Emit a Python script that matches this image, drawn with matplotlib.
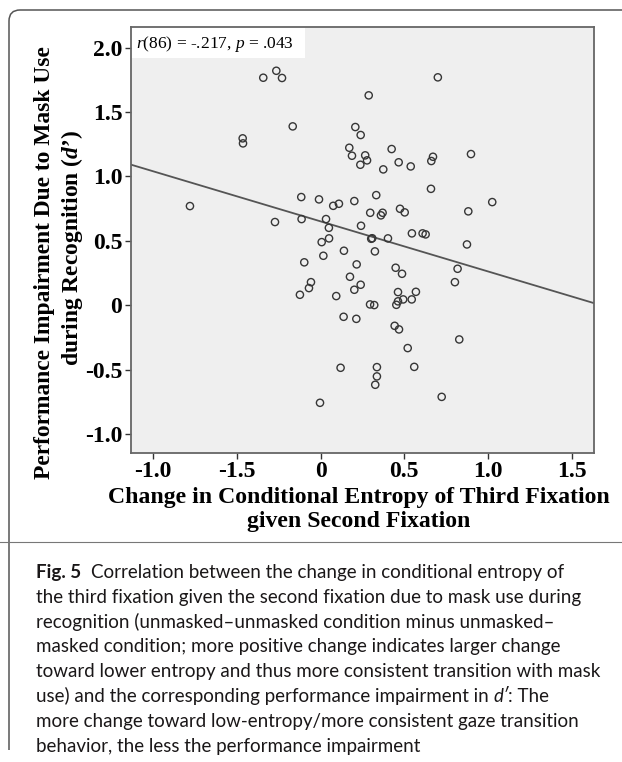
import numpy as np
import matplotlib
matplotlib.use("Agg")
import matplotlib.pyplot as plt
from matplotlib.patches import Rectangle, PathPatch
from matplotlib.path import Path

# change in conditional entropy (x) vs. performance impairment in d' (y)
x_change = [-0.343, -0.265, -0.231, 0.287, -0.167, -0.466, -0.464, 0.207, 0.239, 0.171,
            0.187, 0.266, 0.277, 0.237, 0.332, -0.116, -0.010, 0.075, 0.109, 0.201,
            0.296, -0.781, -0.273, -0.114, 0.032, 0.049, 0.241, 0.700, 0.424, 0.466,
            0.538, 0.374, 0.671, 0.661, 0.898, 0.659, 0.360, 0.370, 0.474, 0.502,
            0.882, 1.025, 0.545, 0.609, 0.627, 0.302, 0.308, 0.006, 0.050, 0.139,
            0.324, 0.016, -0.098, 0.215, 0.175, 0.239, 0.201, -0.058, -0.070, -0.124,
            0.093, 0.295, 0.320, 0.137, 0.213, 0.119, 0.336, 0.336, 0.326, -0.004,
            0.402, 0.874, 0.448, 0.486, 0.818, 0.802, 0.462, 0.569, 0.493, 0.544,
            0.462, 0.452, 0.442, 0.468, 0.828, 0.520, 0.559, 0.723]
y_impair = [1.767, 1.821, 1.765, 1.630, 1.389, 1.296, 1.257, 1.384, 1.322, 1.223,
            1.161, 1.164, 1.125, 1.091, 0.855, 0.840, 0.822, 0.772, 0.788, 0.809,
            0.718, 0.770, 0.646, 0.669, 0.669, 0.601, 0.617, 1.770, 1.213, 1.110,
            1.078, 1.055, 1.153, 1.120, 1.174, 0.904, 0.698, 0.718, 0.749, 0.721,
            0.729, 0.801, 0.558, 0.558, 0.550, 0.516, 0.520, 0.490, 0.519, 0.423,
            0.418, 0.384, 0.333, 0.317, 0.221, 0.159, 0.120, 0.179, 0.133, 0.081,
            0.071, 0.006, 0.001, -0.090, -0.106, -0.486, -0.481, -0.553, -0.618, -0.758,
            0.519, 0.472, 0.291, 0.244, 0.283, 0.179, 0.102, 0.104, 0.045, 0.045,
            0.030, 0.003, -0.160, -0.188, -0.266, -0.333, -0.479, -0.712]

x_ticks = [-1.0, -0.5, 0, 0.5, 1.0, 1.5]
x_tick_labels = ['-1.0', '-1.5', '0', '0.5', '1.0', '1.5']  # as printed in the source
y_ticks = [-1.0, -0.5, 0, 0.5, 1.0, 1.5, 2.0]
y_tick_labels = ['-1.0', '-0.5', '0', '0.5', '1.0', '1.5', '2.0']

stat_label = r'$r$(86) = -.217, $p$ = .043'
x_label_lines = ['Change in Conditional Entropy of Third Fixation', 'given Second Fixation']
y_label_lines = ['Performance Impairment Due to Mask Use', r'during Recognition ($\mathbfit{d}$’)']

caption_lines = [
    [('Fig. 5', 'bold', 'normal'), ('Correlation between the change in conditional entropy of', 'normal', 'normal')],
    [('the third fixation given the second fixation due to mask use during', 'normal', 'normal')],
    [('recognition (unmasked–unmasked condition minus unmasked–', 'normal', 'normal')],
    [('masked condition; more positive change indicates larger change', 'normal', 'normal')],
    [('toward lower entropy and thus more consistent transition with mask', 'normal', 'normal')],
    [('use) and the corresponding performance impairment in', 'normal', 'normal'),
     ('d′', 'normal', 'italic'), (': The', 'normal', 'normal')],
    [('more change toward low-entropy/more consistent gaze transition', 'normal', 'normal')],
    [('behavior, the less the performance impairment', 'normal', 'normal')],
]

plt.rcParams['mathtext.fontset'] = 'custom'
plt.rcParams['mathtext.rm'] = 'Liberation Serif'
plt.rcParams['mathtext.it'] = 'Liberation Serif:italic'
plt.rcParams['mathtext.bf'] = 'Liberation Serif:bold'
plt.rcParams['mathtext.bfit'] = 'Liberation Serif:italic:bold'

W, H = 622, 762
fig = plt.figure(figsize=(W / 100, H / 100), dpi=100)
fig.patch.set_facecolor('white')


def fx(px):
    return px / W


def fy(py):
    return 1 - py / H


ax = fig.add_axes([fx(130.7), fy(453), fx(594) - fx(130.7), fy(27) - fy(453)])
ax.set_facecolor('#efefef')
ax.set_xlim(-1.135, 1.633)
ax.set_ylim(-1.148, 2.161)

ax.scatter(x_change, y_impair, s=27, facecolors='none', edgecolors='#363636',
           linewidths=1.0, zorder=3)

# least squares line through the points
slope, intercept = np.polyfit(x_change, y_impair, 1)
xs = np.array(ax.get_xlim())
ax.plot(xs, intercept + slope * xs, color='#555555', lw=1.3, zorder=2)

# white box behind the statistic
ax.add_patch(Rectangle((0, 1 - 0.0735), 0.376, 0.0735, transform=ax.transAxes,
                       facecolor='white', edgecolor='none', zorder=1))
ax.text(fx(136), fy(44), stat_label, transform=fig.transFigure, fontsize=12.5,
        family='Liberation Serif', ha='left', va='center', zorder=4)

ax.set_xticks(x_ticks)
ax.set_xticklabels(x_tick_labels)
ax.set_yticks(y_ticks)
ax.set_yticklabels(y_tick_labels)
for lab in ax.get_xticklabels() + ax.get_yticklabels():
    lab.set_family('Liberation Serif')
    lab.set_fontweight('bold')
    lab.set_fontsize(17)
ax.tick_params(direction='out', length=4.5, width=1.0, color='#333333', pad=1.5)
for sp in ax.spines.values():
    sp.set_color('#666666')
    sp.set_linewidth(1.3)

# axis titles
fig.text(fx(359), fy(498), x_label_lines[0], family='Liberation Serif', weight='bold',
         fontsize=17.1, ha='center', va='center')
fig.text(fx(359), fy(522), x_label_lines[1], family='Liberation Serif', weight='bold',
         fontsize=17.1, ha='center', va='center')
fig.text(fx(45), fy(263), y_label_lines[0], family='Liberation Serif', weight='bold',
         fontsize=16.9, ha='center', va='center', rotation=90)
fig.text(fx(72), fy(248), y_label_lines[1], family='Liberation Serif', weight='bold',
         fontsize=16.9, ha='center', va='center', rotation=90)

# outer frame with rounded top-left corner and caption rule
verts = [(fx(9), fy(750)), (fx(9), fy(21)), (fx(9), fy(10)), (fx(20), fy(10)), (fx(622), fy(10))]
codes = [Path.MOVETO, Path.LINETO, Path.CURVE3, Path.CURVE3, Path.LINETO]
fig.add_artist(PathPatch(Path(verts, codes), transform=fig.transFigure, facecolor='none',
                         edgecolor='#555555', lw=1.1))
fig.add_artist(plt.Line2D([0, 1], [fy(542), fy(542)], transform=fig.transFigure,
                          color='#777777', lw=0.8))

# caption, drawn run by run
fig.canvas.draw()
renderer = fig.canvas.get_renderer()
cap_font = ['Lato', 'DejaVu Sans']
cap_size = 13.5


def text_width(s, weight, style):
    t = fig.text(0, 0, s, family=cap_font, fontsize=cap_size, weight=weight, style=style)
    w = t.get_window_extent(renderer).width
    t.remove()
    return w


space_w = text_width('a a', 'normal', 'normal') - text_width('aa', 'normal', 'normal')
base = 578
for i, runs in enumerate(caption_lines):
    xpos = 35.5
    for j, (s, weight, style) in enumerate(runs):
        if j > 0:
            if runs[j - 1][0] == 'Fig. 5':
                xpos += space_w * 2.2
            elif not s.startswith(':'):
                xpos += space_w
        fig.text(fx(xpos), fy(base + i * 24.8), s, family=cap_font, fontsize=cap_size,
                 weight=weight, style=style, color='#1a1718', ha='left', va='baseline')
        xpos += text_width(s, weight, style)

fig.savefig('out.png', dpi=100)
